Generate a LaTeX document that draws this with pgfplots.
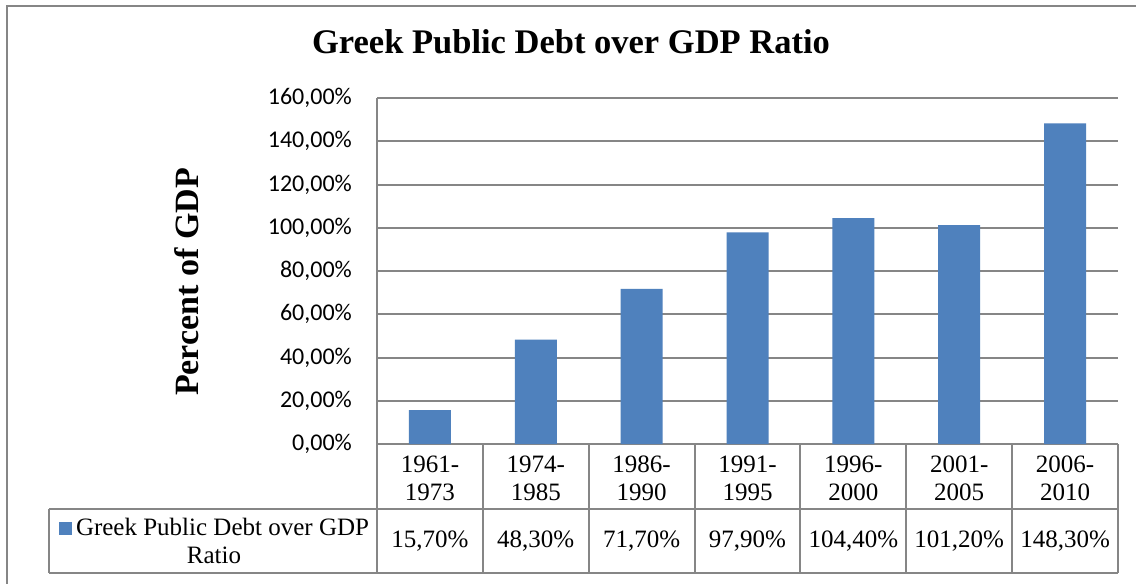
\documentclass[border=0pt]{standalone}
\usepackage{pgfplots}
\usepackage{pgfplotstable}
\pgfplotsset{compat=1.18}
\usepackage{fontspec}
\setmainfont{Liberation Serif}
\newfontfamily\calibri{Carlito}
\definecolor{barblue}{HTML}{4F81BD}
\definecolor{linegray}{HTML}{868686}

\pgfplotstableread{
x v
0 15.7
1 48.3
2 71.7
3 97.9
4 104.4
5 101.2
6 148.3
}\debt

\begin{document}
\begin{tikzpicture}
\useasboundingbox (0pt,0pt) rectangle (1136pt,-584pt);
\fill[white] (0pt,0pt) rectangle (1136pt,-584pt);
\draw[linegray, line width=2pt] (7pt,-600pt) -- (7pt,-6pt) -- (1150pt,-6pt);

\node[anchor=base, font=\bfseries\fontsize{34.5}{40}\selectfont] at (571pt,-53pt) {Greek Public Debt over GDP Ratio};
\node[rotate=90, anchor=center, font=\bfseries\fontsize{34}{40}\selectfont] at (187pt,-282pt) {Percent of GDP};

\begin{axis}[
  at={(377pt,-444pt)}, anchor=south west,
  scale only axis, width=741pt, height=346pt,
  xmin=-0.5, xmax=6.5, ymin=0, ymax=160,
  clip=false,
  axis line style={draw=none},
  tick style={draw=none},
  ymajorgrids,
  grid style={linegray, line width=2pt},
  ytick={0,20,...,160},
  yticklabel style={font=\calibri\fontsize{24}{28}\selectfont, anchor=east, inner sep=0pt, xshift=-25pt,
    /pgf/number format/.cd, fixed, fixed zerofill, precision=2, use comma, assume math mode=true},
  yticklabel={\pgfmathprintnumber{\tick}\%},
  xtick={0,...,6},
  xticklabels={{1961-\\1973},{1974-\\1985},{1986-\\1990},{1991-\\1995},{1996-\\2000},{2001-\\2005},{2006-\\2010}},
  xticklabel style={align=center, anchor=center, yshift=-34pt, font=\fontsize{25}{28}\selectfont},
]
\addplot[ybar, bar width=42pt, fill=barblue, draw=none] table[x=x, y=v] {\debt};
\addplot[only marks, mark=none, point meta=explicit,
  nodes near coords={\pgfmathprintnumber[fixed, fixed zerofill, precision=2, use comma, assume math mode=true]{\pgfplotspointmeta}\%},
  every node near coord/.style={anchor=center, font=\fontsize{25}{28}\selectfont, text=black}]
  table[x=x, y expr=-45.1, meta=v] {\debt};
\end{axis}

% data table grid
\begin{scope}[linegray, line width=2pt]
\draw (377pt,-98pt) -- (377pt,-573pt);
\draw (49pt,-509pt) -- (1118pt,-509pt);
\draw (49pt,-573pt) -- (1118pt,-573pt);
\draw (49pt,-509pt) -- (49pt,-573pt);
\foreach \k in {1,...,7} {
  \pgfmathsetmacro{\xx}{377+105.857*\k}
  \draw (\xx pt,-444pt) -- (\xx pt,-573pt);
}
\end{scope}

\node[align=center, anchor=center, font=\fontsize{25}{28}\selectfont] at (214pt,-541pt)
  {{\color{barblue}\raisebox{1pt}{\rule{13pt}{13pt}}}\hspace{4pt}Greek Public Debt over GDP\\Ratio};
\end{tikzpicture}
\end{document}
